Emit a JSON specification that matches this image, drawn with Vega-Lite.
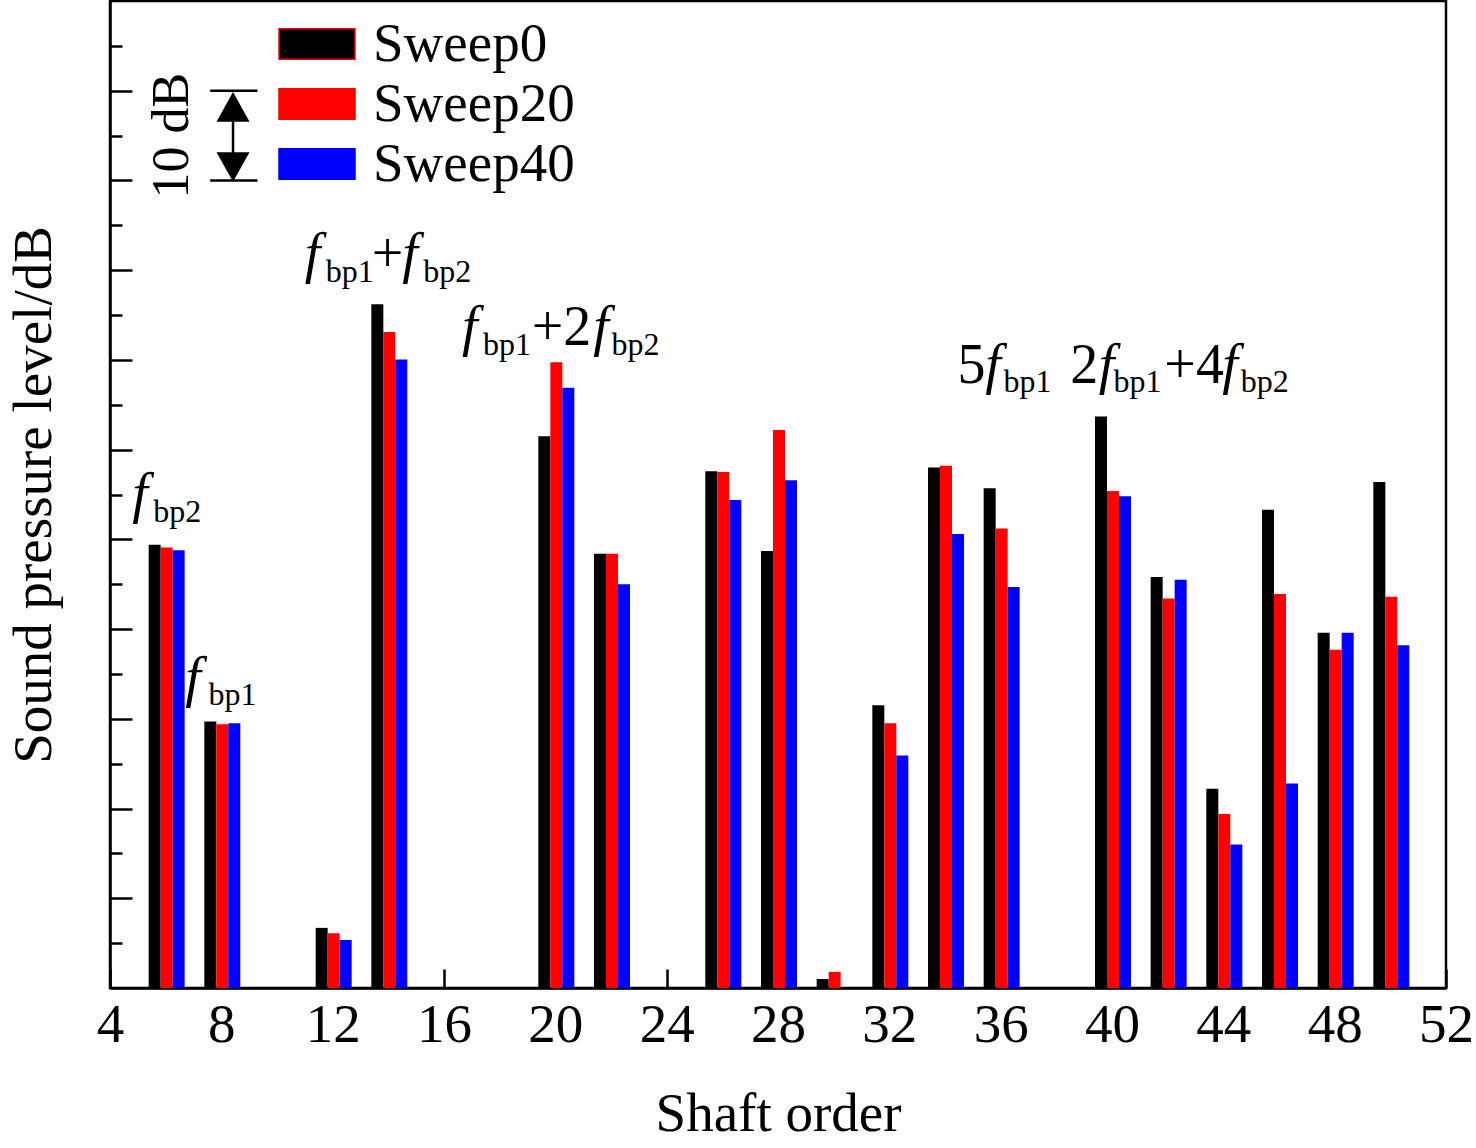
{
  "$schema": "https://vega.github.io/schema/vega-lite/v6.json",
  "description": "Sound pressure level at shaft orders for three sweep angles",
  "width": 1336,
  "height": 987,
  "autosize": {"type": "none"},
  "padding": {"left": 110, "top": 1, "right": 30, "bottom": 160},
  "datasets": {
    "bars": [
      {"order": 6, "series": "Sweep0", "spl": 49.4},
      {"order": 6, "series": "Sweep20", "spl": 49.1},
      {"order": 6, "series": "Sweep40", "spl": 48.8},
      {"order": 8, "series": "Sweep0", "spl": 29.7},
      {"order": 8, "series": "Sweep20", "spl": 29.4},
      {"order": 8, "series": "Sweep40", "spl": 29.5},
      {"order": 12, "series": "Sweep0", "spl": 6.7},
      {"order": 12, "series": "Sweep20", "spl": 6.1},
      {"order": 12, "series": "Sweep40", "spl": 5.35},
      {"order": 14, "series": "Sweep0", "spl": 76.2},
      {"order": 14, "series": "Sweep20", "spl": 73.1},
      {"order": 14, "series": "Sweep40", "spl": 70.05},
      {"order": 20, "series": "Sweep0", "spl": 61.5},
      {"order": 20, "series": "Sweep20", "spl": 69.75},
      {"order": 20, "series": "Sweep40", "spl": 66.9},
      {"order": 22, "series": "Sweep0", "spl": 48.4},
      {"order": 22, "series": "Sweep20", "spl": 48.4},
      {"order": 22, "series": "Sweep40", "spl": 45.0},
      {"order": 26, "series": "Sweep0", "spl": 57.6},
      {"order": 26, "series": "Sweep20", "spl": 57.5},
      {"order": 26, "series": "Sweep40", "spl": 54.4},
      {"order": 28, "series": "Sweep0", "spl": 48.7},
      {"order": 28, "series": "Sweep20", "spl": 62.2},
      {"order": 28, "series": "Sweep40", "spl": 56.6},
      {"order": 30, "series": "Sweep0", "spl": 1.0},
      {"order": 30, "series": "Sweep20", "spl": 1.8},
      {"order": 32, "series": "Sweep0", "spl": 31.5},
      {"order": 32, "series": "Sweep20", "spl": 29.5},
      {"order": 32, "series": "Sweep40", "spl": 25.9},
      {"order": 34, "series": "Sweep0", "spl": 58.0},
      {"order": 34, "series": "Sweep20", "spl": 58.2},
      {"order": 34, "series": "Sweep40", "spl": 50.6},
      {"order": 36, "series": "Sweep0", "spl": 55.7},
      {"order": 36, "series": "Sweep20", "spl": 51.2},
      {"order": 36, "series": "Sweep40", "spl": 44.7},
      {"order": 40, "series": "Sweep0", "spl": 63.7},
      {"order": 40, "series": "Sweep20", "spl": 55.4},
      {"order": 40, "series": "Sweep40", "spl": 54.8},
      {"order": 42, "series": "Sweep0", "spl": 45.8},
      {"order": 42, "series": "Sweep20", "spl": 43.4},
      {"order": 42, "series": "Sweep40", "spl": 45.5},
      {"order": 44, "series": "Sweep0", "spl": 22.2},
      {"order": 44, "series": "Sweep20", "spl": 19.4},
      {"order": 44, "series": "Sweep40", "spl": 16.0},
      {"order": 46, "series": "Sweep0", "spl": 53.3},
      {"order": 46, "series": "Sweep20", "spl": 43.9},
      {"order": 46, "series": "Sweep40", "spl": 22.8},
      {"order": 48, "series": "Sweep0", "spl": 39.6},
      {"order": 48, "series": "Sweep20", "spl": 37.7},
      {"order": 48, "series": "Sweep40", "spl": 39.6},
      {"order": 50, "series": "Sweep0", "spl": 56.4},
      {"order": 50, "series": "Sweep20", "spl": 43.6},
      {"order": 50, "series": "Sweep40", "spl": 38.2}
    ],
    "italic": [
      {"x": 4.8, "y": 53.05, "t": "f"},
      {"x": 6.7, "y": 32.54, "t": "f"},
      {"x": 11.0, "y": 79.8, "t": "f"},
      {"x": 14.5, "y": 79.8, "t": "f"},
      {"x": 16.65, "y": 71.66, "t": "f"},
      {"x": 21.36, "y": 71.66, "t": "f"},
      {"x": 35.45, "y": 67.42, "t": "f"},
      {"x": 39.52, "y": 67.42, "t": "f"},
      {"x": 43.96, "y": 67.42, "t": "f"}
    ],
    "sub": [
      {"x": 5.55, "y": 51.93, "t": "bp2"},
      {"x": 7.54, "y": 31.54, "t": "bp1"},
      {"x": 11.75, "y": 78.68, "t": "bp1"},
      {"x": 15.25, "y": 78.68, "t": "bp2"},
      {"x": 17.4, "y": 70.55, "t": "bp1"},
      {"x": 22.02, "y": 70.55, "t": "bp2"},
      {"x": 36.1, "y": 66.42, "t": "bp1"},
      {"x": 40.05, "y": 66.42, "t": "bp1"},
      {"x": 44.63, "y": 66.42, "t": "bp2"}
    ],
    "plain": [
      {"x": 13.4, "y": 79.8, "t": "+"},
      {"x": 19.15, "y": 71.66, "t": "+2"},
      {"x": 34.45, "y": 67.42, "t": "5"},
      {"x": 38.5, "y": 67.42, "t": "2"},
      {"x": 41.88, "y": 67.42, "t": "+4"}
    ],
    "caps": [
      {"x": 7.6, "x2": 9.3, "y": 100},
      {"x": 7.6, "x2": 9.3, "y": 90}
    ],
    "stem": [
      {"x": 8.42, "y": 90.5, "y2": 99.5}
    ],
    "heads": [
      {"x": 8.42, "y": 98.2, "dir": "up"},
      {"x": 8.42, "y": 91.5, "dir": "down"}
    ],
    "note": [
      {"x": 6.8, "y": 95.0, "t": "10 dB"}
    ]
  },
  "layer": [
    {
      "data": {"name": "bars"},
      "transform": [{"filter": "datum.series === 'Sweep0'"}],
      "mark": {"type": "bar", "width": 12, "xOffset": -11},
      "encoding": {
        "x": {
          "field": "order",
          "type": "quantitative",
          "title": "Shaft order",
          "scale": {"domain": [4, 52], "nice": false, "padding": 0},
          "axis": {
            "title": "Shaft order",
            "values": [4, 8, 12, 16, 20, 24, 28, 32, 36, 40, 44, 48, 52],
            "tickSize": -19,
            "labelFlush": false,
            "labelOverlap": false,
            "labelPadding": 29,
            "titlePadding": 35
          }
        },
        "y": {
          "field": "spl",
          "type": "quantitative",
          "title": "Sound pressure level/dB",
          "scale": {"domain": [0, 110], "nice": false, "padding": 0},
          "axis": {
            "title": "Sound pressure level/dB",
            "labels": false,
            "values": [5, 10, 15, 20, 25, 30, 35, 40, 45, 50, 55, 60, 65, 70, 75, 80, 85, 90, 95, 100, 105],
            "tickSize": {"condition": {"test": "datum.value % 10 === 0", "value": -22}, "value": -12},
            "titlePadding": 46
          }
        },
        "color": {
          "field": "series",
          "type": "nominal",
          "scale": {"domain": ["Sweep0", "Sweep20", "Sweep40"], "range": ["#000000", "#ff0000", "#0000ff"]},
          "legend": {
            "orient": "none",
            "legendX": 168,
            "legendY": 13,
            "title": null,
            "symbolType": "M-1,-0.4H1V0.4H-1Z",
            "symbolSize": 5776,
            "symbolStrokeWidth": 1.5,
            "labelFontSize": 55,
            "labelLimit": 0,
            "labelOffset": 17,
            "clipHeight": 60,
            "rowPadding": 0,
            "padding": 0,
            "encode": {
              "symbols": {
                "update": {
                  "stroke": {"signal": "datum.value === 'Sweep40' ? '#0000ff' : '#ff0000'"}
                }
              }
            }
          }
        }
      }
    },
    {
      "data": {"name": "bars"},
      "transform": [{"filter": "datum.series === 'Sweep20'"}],
      "mark": {"type": "bar", "width": 12, "xOffset": 1},
      "encoding": {
        "x": {"field": "order", "type": "quantitative", "title": "Shaft order"},
        "y": {"field": "spl", "type": "quantitative", "title": "Sound pressure level/dB"},
        "color": {"field": "series", "type": "nominal", "legend": null}
      }
    },
    {
      "data": {"name": "bars"},
      "transform": [{"filter": "datum.series === 'Sweep40'"}],
      "mark": {"type": "bar", "width": 12, "xOffset": 13},
      "encoding": {
        "x": {"field": "order", "type": "quantitative", "title": "Shaft order"},
        "y": {"field": "spl", "type": "quantitative", "title": "Sound pressure level/dB"},
        "color": {"field": "series", "type": "nominal", "legend": null}
      }
    },
    {
      "data": {"name": "italic"},
      "mark": {"type": "text", "fontStyle": "italic", "fontSize": 56, "align": "left", "baseline": "alphabetic", "color": "#000"},
      "encoding": {
        "x": {"field": "x", "type": "quantitative", "title": "Shaft order"},
        "y": {"field": "y", "type": "quantitative", "title": "Sound pressure level/dB"},
        "text": {"field": "t"}
      }
    },
    {
      "data": {"name": "sub"},
      "mark": {"type": "text", "fontSize": 32, "align": "left", "baseline": "alphabetic", "color": "#000"},
      "encoding": {
        "x": {"field": "x", "type": "quantitative", "title": "Shaft order"},
        "y": {"field": "y", "type": "quantitative", "title": "Sound pressure level/dB"},
        "text": {"field": "t"}
      }
    },
    {
      "data": {"name": "plain"},
      "mark": {"type": "text", "fontSize": 56, "align": "left", "baseline": "alphabetic", "color": "#000"},
      "encoding": {
        "x": {"field": "x", "type": "quantitative", "title": "Shaft order"},
        "y": {"field": "y", "type": "quantitative", "title": "Sound pressure level/dB"},
        "text": {"field": "t"}
      }
    },
    {
      "data": {"name": "caps"},
      "mark": {"type": "rule", "strokeWidth": 2.5, "color": "#000"},
      "encoding": {
        "x": {"field": "x", "type": "quantitative", "title": "Shaft order"},
        "x2": {"field": "x2"},
        "y": {"field": "y", "type": "quantitative", "title": "Sound pressure level/dB"}
      }
    },
    {
      "data": {"name": "stem"},
      "mark": {"type": "rule", "strokeWidth": 2.5, "color": "#000"},
      "encoding": {
        "x": {"field": "x", "type": "quantitative", "title": "Shaft order"},
        "y": {"field": "y", "type": "quantitative", "title": "Sound pressure level/dB"},
        "y2": {"field": "y2"}
      }
    },
    {
      "data": {"name": "heads"},
      "mark": {"type": "point", "filled": true, "size": 1089, "opacity": 1, "color": "#000", "strokeWidth": 0},
      "encoding": {
        "x": {"field": "x", "type": "quantitative", "title": "Shaft order"},
        "y": {"field": "y", "type": "quantitative", "title": "Sound pressure level/dB"},
        "shape": {
          "field": "dir",
          "type": "nominal",
          "scale": {"domain": ["up", "down"], "range": ["M0,-0.9L1,0.9H-1Z", "M0,0.9L1,-0.9H-1Z"]},
          "legend": null
        }
      }
    },
    {
      "data": {"name": "note"},
      "mark": {"type": "text", "fontSize": 52, "angle": 270, "align": "center", "baseline": "alphabetic", "color": "#000"},
      "encoding": {
        "x": {"field": "x", "type": "quantitative", "title": "Shaft order"},
        "y": {"field": "y", "type": "quantitative", "title": "Sound pressure level/dB"},
        "text": {"field": "t"}
      }
    }
  ],
  "config": {
    "font": "Liberation Serif",
    "view": {"stroke": "#000", "strokeWidth": 2.5},
    "axis": {
      "grid": false,
      "domain": true,
      "domainColor": "#000",
      "domainWidth": 2.5,
      "tickColor": "#000",
      "tickWidth": 2.5,
      "zindex": 1,
      "labelFont": "Liberation Serif",
      "labelFontSize": 55,
      "labelColor": "#000",
      "titleFont": "Liberation Serif",
      "titleFontSize": 55,
      "titleFontWeight": "normal",
      "titleColor": "#000"
    },
    "legend": {
      "labelFont": "Liberation Serif",
      "labelColor": "#000"
    },
    "text": {"font": "Liberation Serif"}
  }
}
